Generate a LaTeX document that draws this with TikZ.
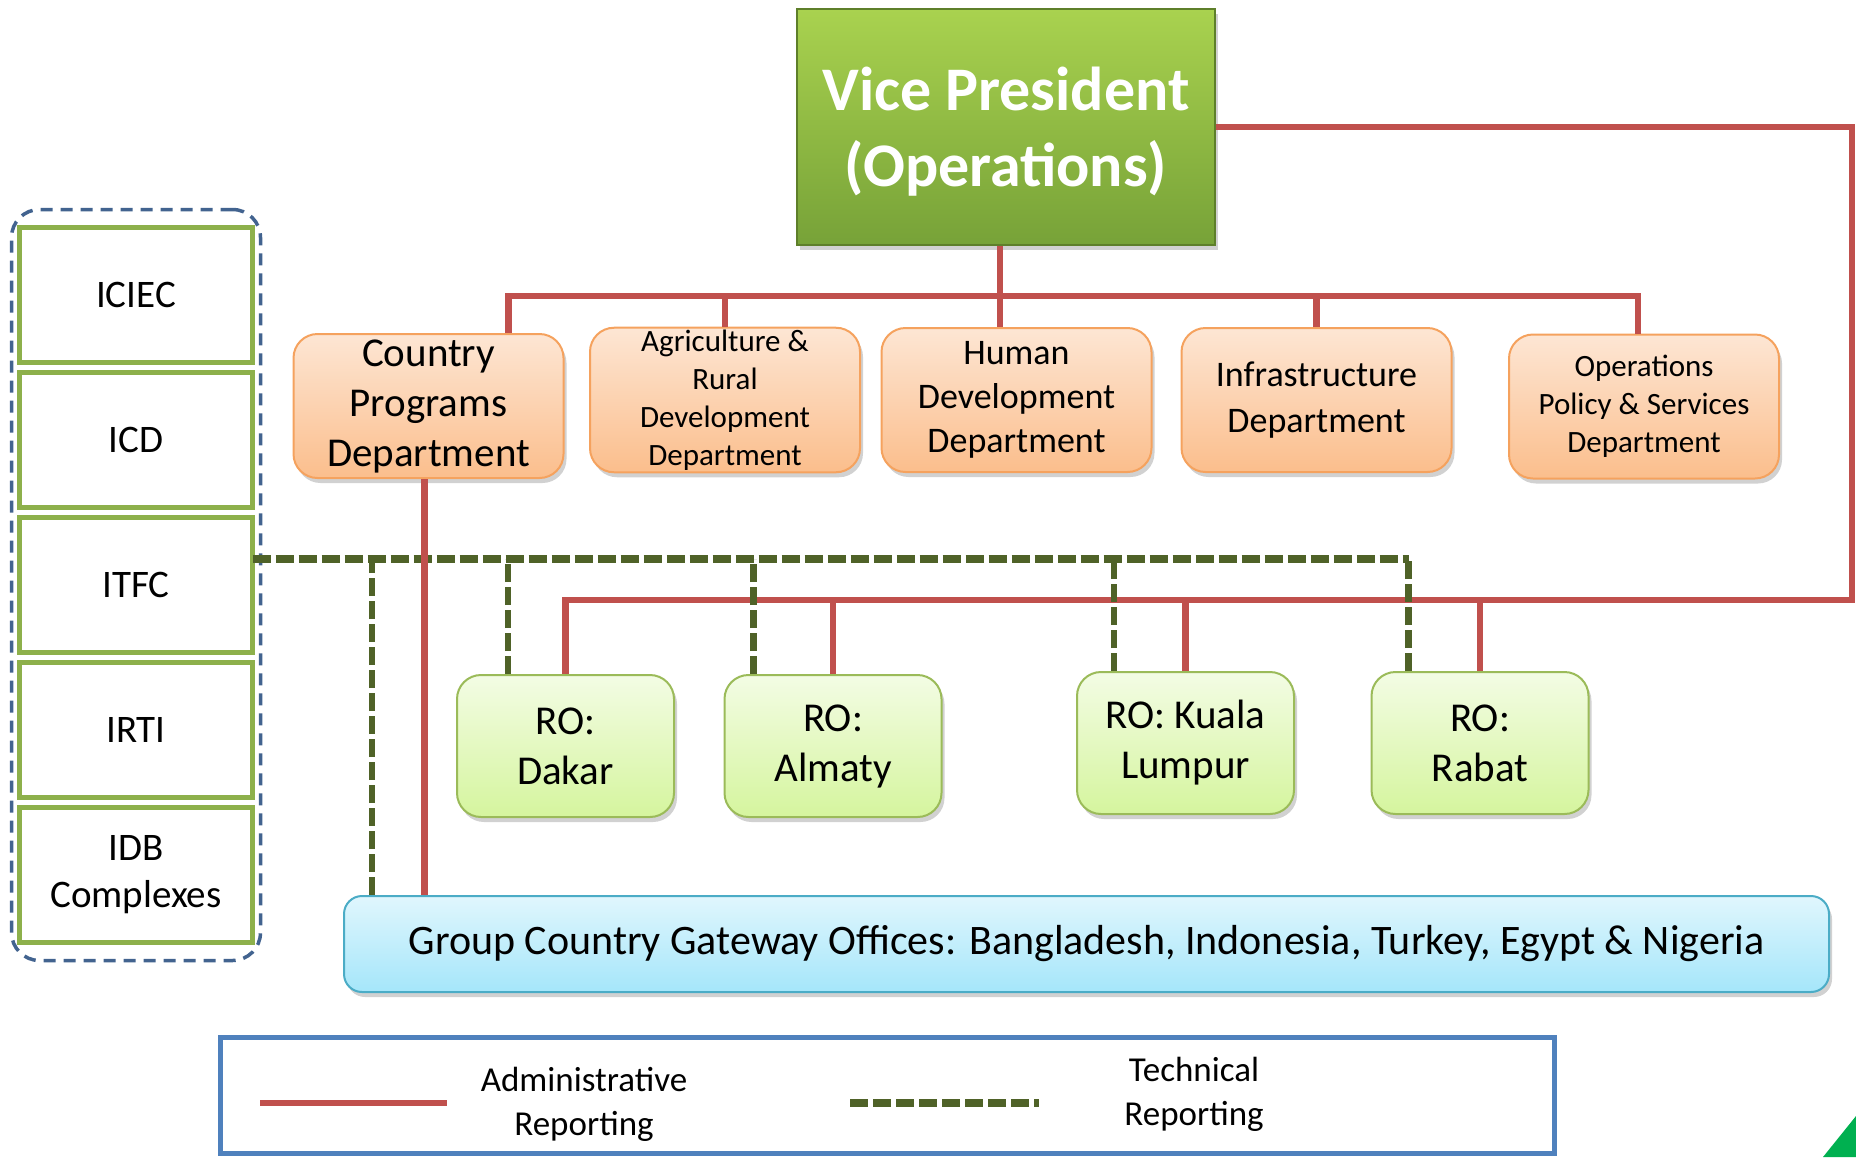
\documentclass[tikz,border=0pt]{standalone}
\usepackage{fontspec}
\setmainfont{Carlito}
\usepackage{tikz}
\usetikzlibrary{positioning,chains,fit,shadows,calc}

\definecolor{admred}{HTML}{C0504D}
\definecolor{tecgreen}{HTML}{4F6228}
\definecolor{depttop}{HTML}{FDE6D4}
\definecolor{deptbot}{HTML}{FBBE8C}
\definecolor{deptedge}{HTML}{F5A25E}
\definecolor{rotop}{HTML}{F3FCE4}
\definecolor{robot}{HTML}{D5F59E}
\definecolor{roedge}{HTML}{9BBB59}
\definecolor{gwtop}{HTML}{E0F6FD}
\definecolor{gwbot}{HTML}{A5E6FA}
\definecolor{gwedge}{HTML}{4BACC6}
\definecolor{vptop}{HTML}{A9D24F}
\definecolor{vpbot}{HTML}{77A238}
\definecolor{vpedge}{HTML}{5E7F2A}
\definecolor{lboxedge}{HTML}{8DB04B}
\definecolor{grpedge}{HTML}{42638F}
\definecolor{legedge}{HTML}{4F81BD}
\definecolor{cornergreen}{HTML}{00B050}

\begin{document}
\begin{tikzpicture}[x=0.5pt, y=-0.5pt, node distance=5pt,
    start chain = L going below,
    adm/.style = {draw=admred, line width=3.25pt}, % administrative lines
    tec/.style = {draw=tecgreen, line width=4pt,
      dash pattern=on 9pt off 2.5pt}, % technical lines
    shade/.style = {drop shadow={shadow xshift=1.5pt, shadow yshift=-2.5pt,
        opacity=0.3, fill=black!60}},
    vp/.style = {rectangle, draw=vpedge, line width=0.8pt, top color=vptop,
      bottom color=vpbot, minimum width=209pt, minimum height=118pt,
      text=white, align=center, shade,
      font=\fontsize{31}{38}\selectfont\bfseries},
    dept/.style = {rectangle, rounded corners=12pt, draw=deptedge,
      line width=1pt, top color=depttop, bottom color=deptbot,
      minimum width=135pt, minimum height=72pt, inner sep=1pt,
      align=center, shade, #1},
    dept/.default = {font=\fontsize{18}{22}\selectfont},
    ro/.style = {rectangle, rounded corners=12pt, draw=roedge,
      line width=1pt, top color=rotop, bottom color=robot,
      minimum width=108.5pt, minimum height=71pt, align=center, shade,
      font=\fontsize{20.5}{25}\selectfont},
    gw/.style = {rectangle, rounded corners=9pt, draw=gwedge,
      line width=1pt, top color=gwtop, bottom color=gwbot,
      minimum width=742.5pt, minimum height=48pt, shade,
      font=\fontsize{21}{25}\selectfont},
    lbox/.style = {rectangle, draw=lboxedge, line width=2.5pt, fill=white,
      minimum width=116.5pt, minimum height=67.5pt, outer sep=0pt,
      align=center, font=\fontsize{19.5}{23.5}\selectfont},
    ]
    \useasboundingbox (0,0) rectangle (1856,1157);

    % left column
    \node[lbox, on chain=L] at (136,295) {ICIEC};
    \foreach \t in {ICD, ITFC, IRTI, {IDB\\Complexes}}
    \node[lbox, on chain=L] {\t};
    \node[draw=grpedge, line width=1.75pt, dash pattern=on 6pt off 4pt,
      rounded corners=14pt, inner xsep=4pt, inner ysep=9pt,
      fit=(L-1)(L-5)] (grp) {};

    % boxes
    \node[vp] (vp) at (1006,127)
    {\raisebox{-2.5pt}[\height][\depth]{Vice President}\\
      \raisebox{-2.5pt}[\height][\depth]{(Operations)}};
    \node[dept={font=\fontsize{20.5}{25}\selectfont}] (cp) at (428.5,406)
    {Country\\Programs\\Department};
    \node[dept={font=\fontsize{15.5}{19}\selectfont}] (ag) at (725,400)
    {Agriculture \&\\Rural\\Development\\Department};
    \node[dept] (hd) at (1016.5,400) {Human\\Development\\Department};
    \node[dept={font=\fontsize{18}{23}\selectfont}] (inf) at (1316.5,400)
    {Infrastructure\\Department};
    \node[dept={font=\fontsize{15.5}{19}\selectfont}] (ops) at (1644,406.5)
    {Operations\\Policy \& Services\\Department};

    \node[ro] (dk) at (565.5,746) {RO:\\Dakar};
    \node[ro] (al) at (833,746) {RO:\\Almaty};
    \node[ro] (kl) at (1185.5,743) {RO: Kuala\\Lumpur};
    \node[ro] (rb) at (1480,743) {RO:\\Rabat};

    \node[gw] (gw) at (1086.5,944) {Group Country Gateway Offices:
      Bangladesh, Indonesia, Turkey, Egypt \& Nigeria};

    % department bus
    \coordinate (busA) at (1000,296);
    \draw[adm] (vp.south -| busA) -- (hd.north -| busA);
    \draw[adm] ([xshift=40pt]cp.north) |- (busA) -| ([xshift=-3pt]ops.north);
    \foreach \d in {ag, inf}
    \draw[adm] (\d.north) -- (\d.north |- busA);

    % regional offices bus
    \coordinate (busR) at (1852,600);
    \draw[adm] (vp.east) -| (busR) -| (dk.north);
    \foreach \r in {al, kl, rb}
    \draw[adm] (\r.north) -- (\r.north |- busR);

    % technical reporting
    \coordinate (busT) at (1409,559);
    \draw[tec] (L-3.east |- busT) -- (busT);
    \foreach \n/\dx in {gw/14.5, dk/26, al/15, kl/19, rb/19}
    \draw[tec, line width=3.25pt] ([xshift=\dx pt]\n.north west)
    -- ([xshift=\dx pt]\n.north west |- busT);

    \draw[adm] ([xshift=-2pt]cp.south) -- ([xshift=-2pt]cp.south |- gw.north);

    % legend
    \node[draw=legedge, line width=2.5pt, minimum width=667pt,
      minimum height=58pt] (leg) at (887,1095) {};
    \coordinate (a1) at (260,1103); \coordinate (a2) at (447,1103);
    \coordinate (t1) at (850,1103); \coordinate (t2) at (1039,1103);
    \draw[adm] (a1) -- (a2);
    \draw[tec] (t1) -- (t2);
    \node[align=center, font=\fontsize{17.5}{22}\selectfont] (admtxt)
    at (584,1104) {Administrative\\Reporting};
    \node[align=center, font=\fontsize{17.5}{22}\selectfont] (tectxt)
    at (1194,1094) {Technical\\Reporting};

    \fill[cornergreen] (1823,1157) -- (1856,1116) -- (1856,1157) -- cycle;
  \end{tikzpicture}
\end{document}
